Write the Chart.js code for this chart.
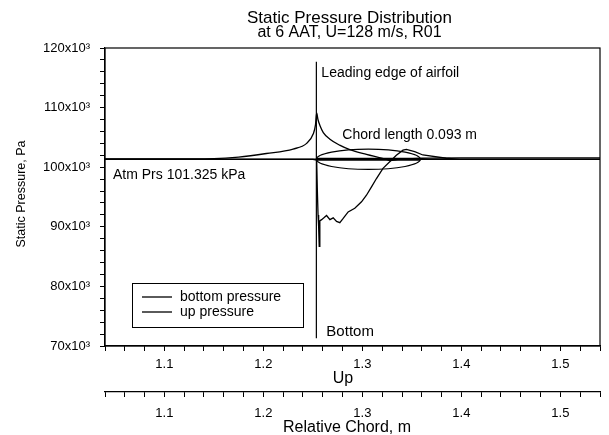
<!DOCTYPE html>
<html>
<head>
<meta charset="utf-8">
<script src="https://cdn.jsdelivr.net/npm/chart.js@4.4.0/dist/chart.umd.min.js"></script>
<style>
    html, body { margin: 0; padding: 0; background: #fff; }
</style>
</head>
<body>
<canvas id="pressureChart" width="609" height="435"></canvas>
<script>
"use strict";

// relative chord (m) and static pressure (Pa)
const bottomX = [1.040, 1.100, 1.150, 1.175, 1.203, 1.230, 1.2437, 1.2504, 1.2526, 1.2538,
    1.2551, 1.2571, 1.2605, 1.2672, 1.2770, 1.2873, 1.3041, 1.3243, 1.3276, 1.3377, 1.360, 1.400, 1.540];
const bottomP = [101400, 101400, 101450, 101700, 102300, 103050, 104000, 105600, 107100, 109100,
    108000, 107000, 105800, 104700, 103700, 102950, 102150, 101300, 101100, 101350, 101500, 101550, 101550];

const upX = [1.040, 1.100, 1.150, 1.200, 1.2500, 1.2538, 1.2545, 1.2552, 1.2558, 1.2564, 1.2570,
    1.2588, 1.2611, 1.2638, 1.2672, 1.2705, 1.2739, 1.2772, 1.2806, 1.2856, 1.2923, 1.2991, 1.3041,
    1.3092, 1.3142, 1.3208, 1.3276, 1.3343, 1.3410, 1.3444, 1.3528, 1.3611, 1.3847, 1.3981, 1.420, 1.540];
const upP = [101300, 101300, 101300, 101300, 101300, 101200, 96000, 92000, 90000, 86700, 91000,
    91200, 91500, 91900, 91200, 91500, 90900, 90700, 91400, 92500, 93100, 94200, 95300,
    96700, 98100, 99800, 100900, 102000, 102850, 103000, 102600, 102050, 101500, 101300, 101300, 101300];

// reference marks
const atmPressure = 101325;
const leadingEdge = 1.2535;
const trailingEdge = 1.3585;
const airfoilHalfThickness = 1700;
const leadingEdgeSpan = [117700, 71300];

// axes and tick labels
const xRange = [1.04, 1.54];
const yRange = [70000, 120000];
const xMajorTicks = [1.1, 1.2, 1.3, 1.4, 1.5];
const xTickLabels = ["1.1", "1.2", "1.3", "1.4", "1.5"];
const yMajorTicks = [70000, 80000, 90000, 100000, 110000, 120000];
const yTickLabels = ["70x10³", "80x10³", "90x10³", "100x10³", "110x10³", "120x10³"];
const seriesNames = ["bottom pressure", "up pressure"];

const fontFamily = "'Liberation Sans', Arial, sans-serif";
Chart.defaults.font.family = fontFamily;
Chart.defaults.color = "#000";

function makeTicks(min, max, step) {
    const ticks = [];
    for (let i = 0; min + i * step <= max + step / 1000; i++) {
        ticks.push({ value: +(min + i * step).toFixed(6) });
    }
    return ticks;
}

function labelFor(majors, labels) {
    return function (value) {
        const i = majors.findIndex(m => Math.abs(m - value) < 1e-6 * Math.max(1, Math.abs(m)));
        return i >= 0 ? labels[i] : "";
    };
}

function toPoints(xs, ys) {
    return xs.map((x, i) => ({ x: x, y: ys[i] }));
}

function xAxis(height, labelPad, weight) {
    return {
        type: "linear",
        position: "bottom",
        min: xRange[0],
        max: xRange[1],
        weight: weight,
        afterBuildTicks: s => { s.ticks = makeTicks(xRange[0], xRange[1], 0.02); },
        afterFit: s => { s.height = height; },
        border: { display: true, color: "#000", width: 1.2 },
        grid: { drawOnChartArea: false, color: "#000", tickLength: 5, lineWidth: 1 },
        ticks: {
            autoSkip: false, maxRotation: 0, padding: labelPad,
            font: { size: 13 }, callback: labelFor(xMajorTicks, xTickLabels)
        }
    };
}

function text(ctx, str, x, y, size, align) {
    ctx.font = size + "px " + fontFamily;
    ctx.textAlign = align || "left";
    ctx.fillText(str, x, y);
}

// titles, frame, airfoil outline, notes and legend
const notesPlugin = {
    id: "notes",
    afterDatasetsDraw(chart) {
        const { ctx, chartArea: a, scales: { x, y } } = chart;
        ctx.save();
        ctx.strokeStyle = "#000";
        ctx.fillStyle = "#000";
        ctx.lineWidth = 1.2;
        ctx.strokeRect(a.left, a.top, a.width, a.height);

        const xl = x.getPixelForValue(leadingEdge);
        const xt = x.getPixelForValue(trailingEdge);
        const cy = y.getPixelForValue(atmPressure);
        const ry = cy - y.getPixelForValue(atmPressure + airfoilHalfThickness);
        ctx.beginPath();
        ctx.ellipse((xl + xt) / 2, cy, (xt - xl) / 2, ry, 0, 0, 2 * Math.PI);
        ctx.stroke();

        ctx.textBaseline = "middle";
        const mid = (a.left + a.right) / 2 - 3;
        text(ctx, "Static Pressure Distribution", mid, 18, 17, "center");
        text(ctx, "at 6 AAT, U=128 m/s, R01", mid, 33, 16, "center");

        text(ctx, "Up", 343, 379, 16, "center");
        text(ctx, "Relative Chord, m", 347, 428, 16, "center");
        ctx.save();
        ctx.translate(22, 194);
        ctx.rotate(-Math.PI / 2);
        text(ctx, "Static Pressure, Pa", 0, 0, 12.5, "center");
        ctx.restore();

        text(ctx, "Leading edge of airfoil", xl + 5, a.top + 25, 14);
        text(ctx, "Chord length 0.093 m", xl + 26, a.top + 87, 14);
        text(ctx, "Atm Prs 101.325 kPa", a.left + 8, cy + 16, 14);
        text(ctx, "Bottom", xl + 10, a.bottom - 14, 15);

        // legend box
        const lx = a.left + 27, ly = a.top + 235;
        ctx.lineWidth = 1;
        ctx.strokeRect(lx + 0.5, ly + 0.5, 171, 44);
        seriesNames.forEach((name, i) => {
            const yy = ly + 14 + i * 15;
            ctx.beginPath();
            ctx.moveTo(lx + 10, yy);
            ctx.lineTo(lx + 40, yy);
            ctx.lineWidth = 1.3;
            ctx.stroke();
            text(ctx, name, lx + 48, yy, 14);
        });
        ctx.restore();
    }
};

const ctx = document.getElementById("pressureChart");
new Chart(ctx, {
    type: "line",
    data: {
        datasets: [
            {
                label: seriesNames[0],
                data: toPoints(bottomX, bottomP),
                borderColor: "#000", borderWidth: 1.3,
                pointRadius: 0, cubicInterpolationMode: "monotone"
            },
            {
                label: seriesNames[1],
                data: toPoints(upX, upP),
                borderColor: "#000", borderWidth: 1.3,
                pointRadius: 0, tension: 0
            },
            {
                label: "atm",
                data: toPoints(xRange, [atmPressure, atmPressure]),
                borderColor: "#000", borderWidth: 1.5, pointRadius: 0
            },
            {
                label: "chord",
                data: toPoints([leadingEdge, trailingEdge], [atmPressure, atmPressure]),
                borderColor: "#000", borderWidth: 3, pointRadius: 0
            },
            {
                label: "leading edge",
                data: toPoints([leadingEdge, leadingEdge], leadingEdgeSpan),
                borderColor: "#000", borderWidth: 1.2, pointRadius: 0
            }
        ]
    },
    options: {
        responsive: false,
        animation: false,
        layout: { padding: { left: 0, right: 7, top: 48, bottom: 0 } },
        plugins: {
            legend: { display: false },
            tooltip: { enabled: false },
            title: { display: false }
        },
        scales: {
            x: xAxis(46, 6, 0),
            x2: xAxis(43, 9, 1),
            y: {
                type: "linear",
                min: yRange[0],
                max: yRange[1],
                afterBuildTicks: s => { s.ticks = makeTicks(yRange[0], yRange[1], 2000); },
                afterFit: s => { s.width = 105; },
                border: { display: true, color: "#000", width: 1.2 },
                grid: { drawOnChartArea: false, color: "#000", tickLength: 5 },
                ticks: {
                    autoSkip: false, padding: 10,
                    font: { size: 13 }, callback: labelFor(yMajorTicks, yTickLabels)
                }
            }
        }
    },
    plugins: [notesPlugin]
});
</script>
</body>
</html>
